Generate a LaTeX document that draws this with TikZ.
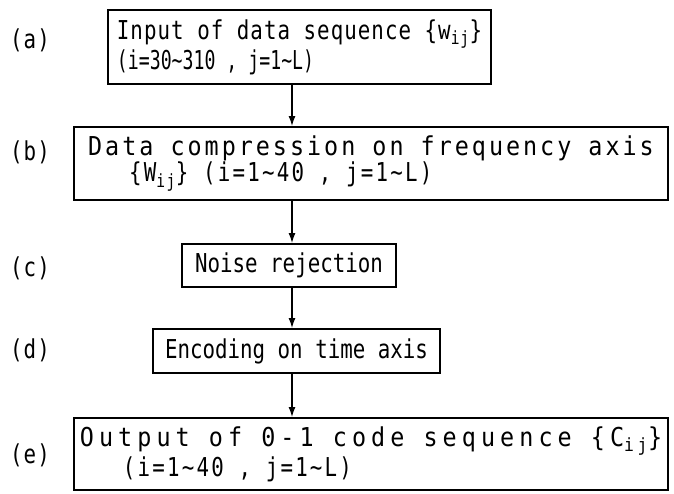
\documentclass[tikz,border=0pt]{standalone}
\usepackage{fontspec}
\usepackage{tikz}
\usetikzlibrary{arrows.meta}
\newfontfamily\plotfont[FakeStretch=0.8]{DejaVu Sans Mono}
\newfontfamily\plotnarrow[FakeStretch=0.7]{DejaVu Sans Mono}
\newfontfamily\plotmid[FakeStretch=0.8,LetterSpace=4]{DejaVu Sans Mono}
\newfontfamily\plotspread[FakeStretch=0.8,LetterSpace=8.5]{DejaVu Sans Mono}
\newfontfamily\plotwide[FakeStretch=0.9,LetterSpace=11.5]{DejaVu Sans Mono}
\newfontfamily\plotwider[FakeStretch=0.9,LetterSpace=19.5]{DejaVu Sans Mono}
\tikzstyle{stage} = [rectangle, draw=black, line width=2pt, inner sep=0pt, align=left, font=\plotfont\fontsize{26}{23}\selectfont]
\tikzstyle{tag} = [font=\plotmid\fontsize{26}{23}\selectfont]
\tikzstyle{arrow} = [line width=1.3pt,->,>={Latex[length=10pt,width=7pt]}]

\begin{document}
\begin{tikzpicture}[x=1pt,y=1pt]
	\useasboundingbox (0,0) rectangle (674,-493);
	\node (a) [stage, minimum width=383pt, minimum height=74pt] at (299.5,-47) {{\plotmid Input of data sequence \{w\textsubscript{ij}\}}\\{\plotnarrow(i=30\textasciitilde310 , j=1\textasciitilde L)}};
	\node (b) [stage, minimum width=594pt, minimum height=73pt] at (371,-163.5) {{\plotwide Data compression on frequency axis}\\\hspace*{41pt}{\plotspread\{W\textsubscript{ij}\} (i=1\textasciitilde40 , j=1\textasciitilde L)}};
	\node (c) [stage, minimum width=214pt, minimum height=43pt] at (289,-265.5) {Noise rejection};
	\node (d) [stage, minimum width=287pt, minimum height=44pt] at (296.5,-351) {Encoding on time axis};
	\node (e) [stage, minimum width=594pt, minimum height=72pt] at (371,-454) {{\plotwider Output of 0-1 code sequence \{C\textsubscript{ij}\}}\\\hspace*{43pt}{\plotspread(i=1\textasciitilde40 , j=1\textasciitilde L)}};
	\node (la) [tag] at (30,-40) {(a)};
	\node (lb) [tag] at (30,-152) {(b)};
	\node (lc) [tag] at (30,-268) {(c)};
	\node (ld) [tag] at (30,-350) {(d)};
	\node (le) [tag] at (30,-455) {(e)};
	\coordinate (spine) at (292,0);
	\draw [arrow] (a.south -| spine) -- (b.north -| spine);
	\draw [arrow] (b.south -| spine) -- (c.north -| spine);
	\draw [arrow] (c.south -| spine) -- (d.north -| spine);
	\draw [arrow] (d.south -| spine) -- (e.north -| spine);
\end{tikzpicture}
\end{document}
